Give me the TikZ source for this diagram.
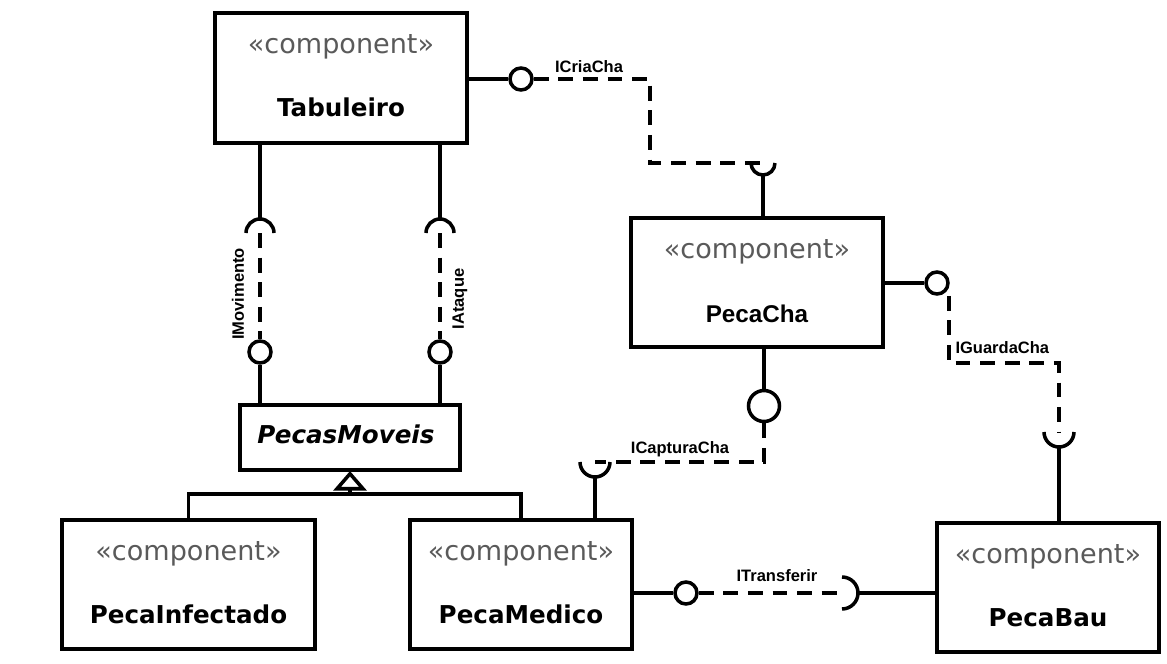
\documentclass[tikz,border=0pt]{standalone}
\usepackage{fontspec}
\usepackage{tikz}
\usetikzlibrary{arrows.meta,positioning,calc}
\newfontfamily\compfont{DejaVu Sans}
\newfontfamily\labfont{Liberation Sans}
\definecolor{stereogray}{HTML}{5A5A5A}

\begin{document}
\begin{tikzpicture}[x=0.02cm, y=-0.02cm, line width=2pt, >=Stealth,
  comp/.style={rectangle, draw, line width=2pt, inner sep=0pt, minimum height=2.6cm},
  stereo/.style={font=\compfont\fontsize{15.4}{18}\selectfont, text=stereogray, anchor=base},
  cname/.style={font=\compfont\bfseries\fontsize{14}{17}\selectfont, anchor=base},
  ball/.style={circle, draw, fill=white, inner sep=0pt, minimum size=0.44cm},
  iface/.style={line width=2.2pt, dash pattern=on 8.5pt off 5.5pt},
  iflabel/.style={font=\labfont\bfseries\fontsize{9.4}{11}\selectfont, inner sep=1pt}]
\useasboundingbox (0,0) rectangle (1167,663);

\node (tab) [comp, minimum width=5.04cm] at (341,78) {};
\node (cha) [comp, minimum width=5.04cm, minimum height=2.58cm] at (757,282.5) {};
\node (pmv) [comp, minimum width=4.4cm, minimum height=1.3cm] at (350,437.5) {};
\node (pi) [comp, minimum width=5.06cm, minimum height=2.58cm] at (188.5,584.5) {};
\node (pm) [comp, minimum width=4.44cm, minimum height=2.58cm] at (521,584.5) {};
\node (bau) [comp, minimum width=4.44cm, minimum height=2.58cm] at (1048,587.5) {};

\node[stereo] at ($(tab.north)+(0,42)$) {«component»};
\node[cname] at ($(tab.north)+(0,105)$) {Tabuleiro};
\node[stereo] at ($(cha.north)+(0,42)$) {«component»};
\node[cname, font=\labfont\bfseries\fontsize{13.8}{16}\selectfont] at ($(cha.north)+(0,106)$) {PecaCha};
\node[cname, font=\compfont\bfseries\itshape\fontsize{14}{17}\selectfont] at ($(pmv.north)+(-4,40)$) {PecasMoveis};
\node[stereo] at ($(pi.north)+(0,42)$) {«component»};
\node[cname] at ($(pi.north)+(0,105)$) {PecaInfectado};
\node[stereo] at ($(pm.north)+(0,42)$) {«component»};
\node[cname] at ($(pm.north)+(0,105)$) {PecaMedico};
\node[stereo] at ($(bau.north)+(0,42)$) {«component»};
\node[cname] at ($(bau.north)+(0,105)$) {PecaBau};

\node (bCria) [ball] at (521,79) {};
\node (bMov) [ball] at (260,352) {};
\node (bAta) [ball] at (440,352) {};
\node (bGuarda) [ball] at (937,283) {};
\node (bCapt) [ball, minimum size=0.62cm] at (764,406) {};
\node (bTrans) [ball] at (686,593) {};

\coordinate (sCria) at (763,163);
\coordinate (sMov) at (260,233);
\coordinate (sAta) at (440,233);
\coordinate (sGuarda) at (1059,432);
\coordinate (sCapt) at (595,462);
\coordinate (sTrans) at (842,593);
\coordinate (kCria) at (650,79);
\coordinate (kGuarda) at (949,363);
\coordinate (gJoin) at (350,494);

\draw (tab.east |- bCria) -- (bCria);
\draw[iface] (bCria.east) -- (kCria) |- (sCria);
\draw ($(sCria)+(-12,0)$) arc[start angle=180, end angle=360, radius=0.24cm];
\draw ($(sCria)+(0,12)$) -- (sCria |- cha.north);
\node[iflabel] at (589,67) {ICriaCha};

\draw (tab.south -| sMov) -- ($(sMov)+(0,-14)$);
\draw ($(sMov)+(-14,0)$) arc[start angle=180, end angle=0, radius=0.28cm];
\draw[iface] (sMov) -- (bMov);
\draw (bMov) -- (bMov |- pmv.north);
\node[iflabel, rotate=90] at (238,294) {IMovimento};

\draw (tab.south -| sAta) -- ($(sAta)+(0,-14)$);
\draw ($(sAta)+(-14,0)$) arc[start angle=180, end angle=0, radius=0.28cm];
\draw[iface] (sAta) -- (bAta);
\draw (bAta) -- (bAta |- pmv.north);
\node[iflabel, rotate=90] at (460,299) {IAtaque};

\draw (cha.east |- bGuarda) -- (bGuarda);
\draw[iface] (kGuarda |- bGuarda.south) -- (kGuarda) -| (sGuarda);
\draw ($(sGuarda)+(-15,0)$) arc[start angle=180, end angle=360, radius=0.3cm];
\draw ($(sGuarda)+(0,15)$) -- (sGuarda |- bau.north);
\node[iflabel, anchor=west] at (952,348) {IGuardaCha};

\draw (cha.south -| bCapt) -- (bCapt);
\draw[iface] (bCapt.south) |- (sCapt);
\draw ($(sCapt)+(-15,0)$) arc[start angle=180, end angle=360, radius=0.3cm];
\draw ($(sCapt)+(0,15)$) -- (sCapt |- pm.north);
\node[iflabel] at (680,449) {ICapturaCha};

\draw (bTrans -| pm.east) -- (bTrans);
\draw[iface] (bTrans.east) -- (sTrans);
\draw ($(sTrans)+(0,-16)$) arc[start angle=90, end angle=-90, radius=0.32cm];
\draw ($(sTrans)+(16,0)$) -- (sTrans -| bau.west);
\node[iflabel] at (777,576) {ITransferir};

\draw (pi.north) |- (gJoin);
\draw (pm.north) |- (gJoin);
\draw (gJoin) -- ++(0,-7);
\draw[line join=miter] (pmv.south) ++(0,2) -- ++(-13,15) -- ++(26,0) -- cycle;
\end{tikzpicture}
\end{document}
